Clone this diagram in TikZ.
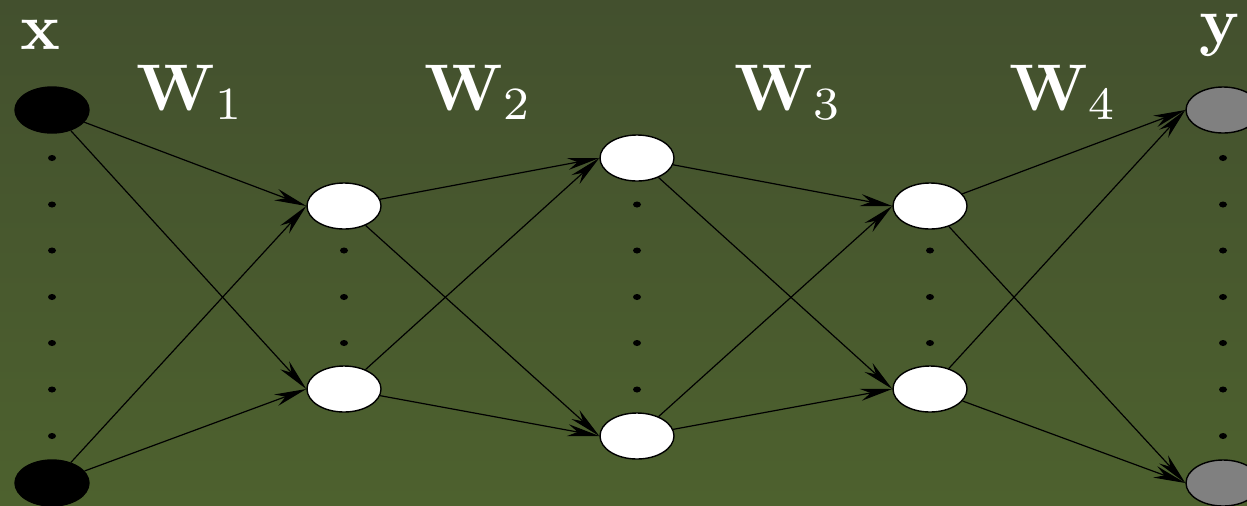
\documentclass[tikz,border=0pt]{standalone}
\usetikzlibrary{arrows.meta,shapes.geometric}
\definecolor{bgtop}{RGB}{67,80,46}
\definecolor{bgbot}{RGB}{77,97,46}
\tikzset{
  unit/.style={ellipse,draw=black,line width=0.7pt,minimum width=37pt,minimum height=23pt,inner sep=0pt},
  inunit/.style={unit,fill=black},
  hidunit/.style={unit,fill=white},
  outunit/.style={unit,fill=gray},
  edge/.style={line width=0.6pt,-{Stealth[length=16pt,width=6pt,inset=5pt]}},
  vdot/.style={ellipse,fill=black,minimum width=4pt,minimum height=3pt,inner sep=0pt},
  lbl/.style={text=white,scale=3.3,inner sep=0pt}
}
\begin{document}
\begin{tikzpicture}[x=0.5pt,y=-0.5pt]
\shade[top color=bgtop,bottom color=bgbot] (0,0) rectangle (1247,505);
\useasboundingbox (0,0) rectangle (1247,505);
% layer 0
\node[inunit] (a1) at (52,110) {};
\node[inunit] (a2) at (52,483) {};
% layer 1
\node[hidunit] (b1) at (344,206) {};
\node[hidunit] (b2) at (344,389) {};
% layer 2
\node[hidunit] (c1) at (637,158) {};
\node[hidunit] (c2) at (637,436) {};
% layer 3
\node[hidunit] (d1) at (930,206) {};
\node[hidunit] (d2) at (930,389) {};
% layer 4
\node[outunit] (e1) at (1223,110) {};
\node[outunit] (e2) at (1223,483) {};
% dots
\foreach \y [count=\i] in {158,204.5,250.5,297,343,389.5,436}{
  \node[vdot] (da\i) at (52,\y) {};
  \node[vdot] (de\i) at (1223,\y) {};
}
\foreach \y [count=\i] in {250.5,297,343}{
  \node[vdot] (db\i) at (344,\y) {};
  \node[vdot] (dd\i) at (930,\y) {};
}
\foreach \y [count=\i] in {204.5,250.5,297,343,389.5}{
  \node[vdot] (dc\i) at (637,\y) {};
}
% edges
\foreach \s/\t in {a/b,b/c,c/d,d/e}{
  \foreach \i in {1,2}{
    \foreach \j in {1,2}{
      \draw[edge] (\s\i) -- (\t\j.west);
    }
  }
}
% labels
\node[lbl,anchor=base] (lx) at (41,49) {$\mathbf{x}$};
\node[lbl,anchor=base] (ly) at (1220,43) {$\mathbf{y}$};
\node[lbl,anchor=base west] (w1) at (135,110) {$\mathbf{W}_1$};
\node[lbl,anchor=base west] (w2) at (423,110) {$\mathbf{W}_2$};
\node[lbl,anchor=base west] (w3) at (733,110) {$\mathbf{W}_3$};
\node[lbl,anchor=base west] (w4) at (1008,110) {$\mathbf{W}_4$};
\end{tikzpicture}
\end{document}
